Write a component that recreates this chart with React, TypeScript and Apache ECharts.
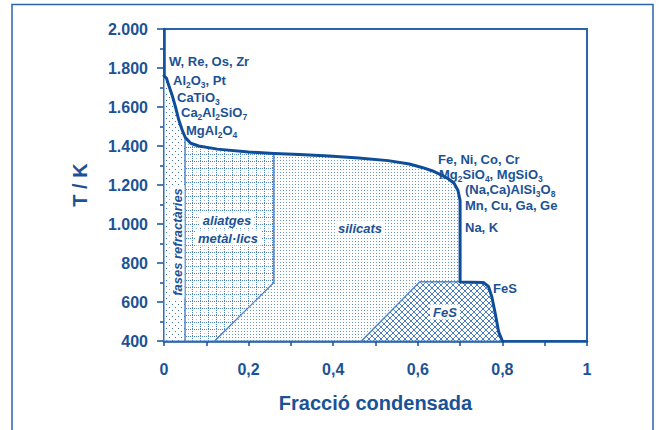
import React, { useEffect, useRef } from "react";
import * as echarts from "echarts";

// Condensation curve: condensed fraction vs temperature (K)
const curveX = [0, 0.006, 0.011, 0.019, 0.027, 0.035, 0.043, 0.05, 0.063, 0.082, 0.126, 0.2, 0.26, 0.32, 0.39, 0.46, 0.53, 0.58, 0.61, 0.635, 0.655, 0.672, 0.686, 0.695, 0.7, 0.7, 0.755, 0.767, 0.775, 0.783, 0.791, 0.8];
const curveT = [1760, 1747, 1713, 1662, 1602, 1533, 1482, 1445, 1414, 1400, 1384, 1369, 1362, 1356, 1349, 1338, 1325, 1308, 1290, 1272, 1252, 1232, 1208, 1172, 1120, 703, 700, 680, 627, 542, 448, 400];

// Region boundaries
const refractoryRightX = 0.05;
const alloyRightX = 0.26;
const alloyFootX = 0.12;
const alloyKneeT = 700;
const fesTopT = 703;
const fesTopLeftX = 0.605;
const fesFootLeftX = 0.467;
const baseT = 400;

const TEXT = "#1b5296";
const LINE = "#14519c";
const FONT = "Liberation Sans";

function makePattern(w: number, h: number, draw: (px: (x: number, y: number, c: string) => void) => void) {
  const c = document.createElement("canvas");
  c.width = w;
  c.height = h;
  const ctx = c.getContext("2d")!;
  ctx.fillStyle = "#ffffff";
  ctx.fillRect(0, 0, w, h);
  const px = (x: number, y: number, col: string) => {
    ctx.fillStyle = col;
    ctx.fillRect(x, y, 1, 1);
  };
  draw(px);
  return { image: c, repeat: "repeat", imageWidth: w, imageHeight: h } as any;
}

export default function App() {
  const ref = useRef<HTMLDivElement>(null);
  useEffect(() => {
    const chart = echarts.init(ref.current!, null, { renderer: "svg" });
    const pts = curveX.map((x, i) => [x, curveT[i]]);
    const refr = [[0, baseT], ...pts.filter((p) => p[0] <= refractoryRightX), [refractoryRightX, baseT]];
    const alloy = [
      [refractoryRightX, baseT],
      ...pts.filter((p) => p[0] >= refractoryRightX && p[0] <= alloyRightX),
      [alloyRightX, alloyKneeT],
      [alloyFootX, baseT],
    ];
    const sil = [
      [alloyFootX, baseT],
      [alloyRightX, alloyKneeT],
      ...pts.filter((p) => p[0] >= alloyRightX && p[0] <= 0.7 && p[1] >= fesTopT),
      [fesTopLeftX, fesTopT],
      [fesFootLeftX, baseT],
    ];
    const fes = [[fesFootLeftX, baseT], [fesTopLeftX, fesTopT], ...pts.filter((p) => p[0] >= 0.7 && p[1] <= fesTopT)];

    const pRefr = makePattern(6, 6, (px) => {
      px(1, 1, "#3f74b8");
      px(4, 4, "#3f74b8");
    });
    const pAlloy = makePattern(8, 7, (px) => {
      for (let x = 0; x < 8; x += 2) px(x, 0, "#4f82c2");
      for (let y = 0; y < 7; y += 2) px(0, y, "#4f82c2");
      px(4, 4, "#9ab8de");
    });
    const pSil = makePattern(3, 3, (px) => {
      px(1, 1, "#6d98cd");
    });
    const pFes = makePattern(6, 6, (px) => {
      for (let i = 0; i < 6; i++) {
        px(i, i, "#4a7ec0");
        px(5 - i, i, "#4a7ec0");
      }
    });

    const region = (poly: number[][], fill: any) => ({
      type: "custom",
      silent: true,
      clip: false,
      z: 1,
      data: [[0, baseT]],
      renderItem: (_p: any, api: any) => ({
        type: "polygon",
        shape: { points: poly.map((p) => api.coord(p)) },
        style: { fill, stroke: "#4f82c2", lineWidth: 1.2 },
      }),
    });

    const sub = {
      fontSize: 8.5,
      lineHeight: 9,
      verticalAlign: "top",
      padding: [9, 0, 0, 0],
      fill: TEXT,
      fontFamily: FONT,
      fontWeight: "bold",
    };
    const label = (text: string, x: number, y: number) => ({
      type: "text",
      x,
      y,
      z: 20,
      silent: true,
      style: {
        text,
        fill: TEXT,
        fontFamily: FONT,
        fontWeight: "bold",
        fontSize: 13,
        lineHeight: 18,
        verticalAlign: "middle",
        align: "left",
        rich: { s: sub },
      },
    });
    const italic = (text: string, x: number, y: number, rotation = 0) => ({
      type: "text",
      x,
      y,
      z: 20,
      rotation,
      silent: true,
      style: {
        text,
        fill: TEXT,
        fontFamily: FONT,
        fontWeight: "bold",
        fontStyle: "italic",
        fontSize: 13,
        align: "center",
        verticalAlign: "middle",
        backgroundColor: "#ffffff",
        padding: [1, 3],
      },
    });

    const tickStyle = { color: LINE, width: 1.5 };
    const axisLabel = { color: TEXT, fontFamily: FONT, fontSize: 16, fontWeight: "bold" };
    const nameStyle = { color: TEXT, fontFamily: FONT, fontSize: 20, fontWeight: "bold" };

    chart.setOption({
      animation: false,
      backgroundColor: "#ffffff",
      grid: { left: 164, top: 29, right: 73, bottom: 89, show: true, borderColor: "#2a64ad", borderWidth: 2 },
      xAxis: {
        type: "value",
        min: 0,
        max: 1,
        interval: 0.2,
        axisLine: { show: true, onZero: false, lineStyle: { color: LINE, width: 2.5 } },
        axisTick: { show: true, length: 5, lineStyle: tickStyle },
        minorTick: { show: true, splitNumber: 2, length: 5, lineStyle: tickStyle },
        splitLine: { show: false },
        minorSplitLine: { show: false },
        axisLabel: { ...axisLabel, margin: 20, formatter: (v: number) => String(Number(v.toFixed(1))).replace(".", ",") },
        name: "Fracció condensada",
        nameLocation: "middle",
        nameGap: 52,
        nameTextStyle: nameStyle,
      },
      yAxis: {
        type: "value",
        min: 400,
        max: 2000,
        interval: 200,
        axisLine: { show: true, onZero: false, lineStyle: { color: LINE, width: 2.5 } },
        axisTick: { show: true, length: 7, lineStyle: tickStyle },
        minorTick: { show: true, splitNumber: 2, length: 4, lineStyle: tickStyle },
        splitLine: { show: false },
        minorSplitLine: { show: false },
        axisLabel: {
          ...axisLabel,
          margin: 16,
          formatter: (v: number) => (v >= 1000 ? Math.floor(v / 1000) + "." + String(v % 1000).padStart(3, "0") : String(v)),
        },
        name: "T / K",
        nameLocation: "middle",
        nameGap: 74,
        nameTextStyle: nameStyle,
      },
      series: [
        region(refr, pRefr),
        region(alloy, pAlloy),
        region(sil, pSil),
        region(fes, pFes),
        {
          type: "line",
          data: pts,
          symbol: "none",
          z: 5,
          silent: true,
          lineStyle: { color: "#0e4e99", width: 3, join: "round", cap: "round" },
        },
      ],
      graphic: [
        {
          type: "rect",
          silent: true,
          z: 0,
          shape: { x: 12, y: 4.5, width: 641, height: 440 },
          style: { fill: "none", stroke: "#2a64ad", lineWidth: 1.5 },
        },
        label("W, Re, Os, Zr", 169, 61),
        label("Al{s|2}O{s|3}, Pt", 173, 80),
        label("CaTiO{s|3}", 177, 97),
        label("Ca{s|2}Al{s|2}SiO{s|7}", 181, 112),
        label("MgAl{s|2}O{s|4}", 186, 130),
        label("Fe, Ni, Co, Cr", 438, 159),
        label("Mg{s|2}SiO{s|4}, MgSiO{s|3}", 439, 174),
        label("(Na,Ca)AlSi{s|3}O{s|8}", 465, 189.5),
        label("Mn, Cu, Ga, Ge", 465, 205),
        label("Na, K", 465, 227),
        label("FeS", 493, 288),
        italic("fases refractàries", 177, 242, Math.PI / 2),
        italic("aliatges", 227, 220),
        italic("metàl·lics", 228, 238),
        italic("silicats", 360, 228),
        italic("FeS", 445, 312),
      ],
    });
    return () => chart.dispose();
  }, []);
  return (
    <div
      ref={ref}
      style={{ position: "fixed", left: 0, top: 0, width: 660, height: 430, background: "#fff" }}
    />
  );
}
